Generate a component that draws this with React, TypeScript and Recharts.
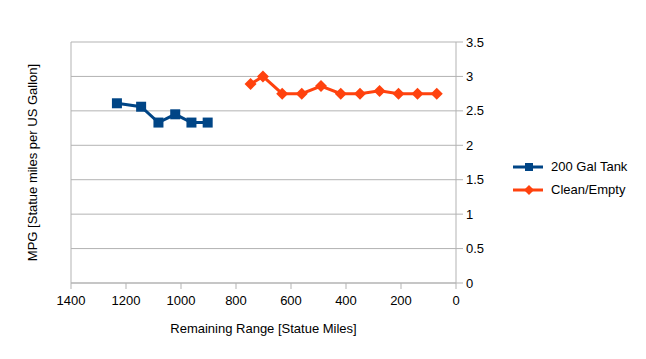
import { LineChart, Line, XAxis, YAxis, CartesianGrid, Legend, Label } from 'recharts'

const tankRange = [1233, 1145, 1082, 1021, 962, 903]
const tankMpg = [2.61, 2.56, 2.33, 2.45, 2.33, 2.33]

const cleanRange = [747, 702, 632, 561, 491, 419, 349, 278, 209, 140, 70]
const cleanMpg = [2.89, 3.0, 2.75, 2.75, 2.86, 2.75, 2.75, 2.79, 2.75, 2.75, 2.75]

const xTicks = [0, 200, 400, 600, 800, 1000, 1200, 1400]
const yTicks = [0, 0.5, 1, 1.5, 2, 2.5, 3, 3.5]

const tankData = tankRange.map((r, i) => ({ range: r, mpg: tankMpg[i] }))
const cleanData = cleanRange.map((r, i) => ({ range: r, mpg: cleanMpg[i] }))

const BLUE = '#004586'
const ORANGE = '#ff420e'
const GRID = '#b3b3b3'
const FONT = '"Liberation Sans", Arial, sans-serif'

const Square = (p: any) => {
  if (p.cx == null) return null
  return <rect key={p.key} x={p.cx - 5} y={p.cy - 5} width={10} height={10} fill={BLUE} />
}

const Diamond = (p: any) => {
  if (p.cx == null) return null
  const { cx, cy } = p
  return <polygon key={p.key} points={`${cx},${cy - 6} ${cx + 6},${cy} ${cx},${cy + 6} ${cx - 6},${cy}`} fill={ORANGE} />
}

const LegendBox = () => (
  <div style={{ fontFamily: FONT, fontSize: 13, color: '#000' }}>
    {[
      { name: '200 Gal Tank', color: BLUE, mark: 'sq' },
      { name: 'Clean/Empty', color: ORANGE, mark: 'di' },
    ].map((it) => (
      <div key={it.name} style={{ display: 'flex', alignItems: 'center', height: 23 }}>
        <svg width={34} height={12} style={{ marginRight: 4 }}>
          <line x1={0} y1={6} x2={30} y2={6} stroke={it.color} strokeWidth={3} />
          {it.mark === 'sq' ? (
            <rect x={12} y={2} width={8} height={8} fill={it.color} />
          ) : (
            <polygon points="16,1 21,6 16,11 11,6" fill={it.color} />
          )}
        </svg>
        <span>{it.name}</span>
      </div>
    ))}
  </div>
)

export default function App() {
  return (
    <div style={{ position: 'absolute', left: 0, top: 0, width: 646, height: 359, background: '#fff' }}>
      <LineChart width={646} height={359} margin={{ top: 42, right: 12, bottom: 26, left: 31 }} style={{ fontFamily: FONT }}>
        <CartesianGrid vertical={false} stroke={GRID} yAxisId="r" />
        <XAxis
          type="number"
          dataKey="range"
          domain={[0, 1400]}
          ticks={xTicks}
          reversed
          allowDataOverflow
          stroke={GRID}
          tickSize={6}
          height={50}
          tick={{ fill: '#000', fontSize: 13, dy: 5 }}
        >
          <Label value="Remaining Range [Statue Miles]" position="insideBottom" offset={0} fill="#000" fontSize={13} />
        </XAxis>
        <YAxis
          yAxisId="l"
          orientation="left"
          width={40}
          domain={[0, 3.5]}
          tick={false}
          tickLine={false}
          stroke={GRID}
        >
          <Label value="MPG [Statue miles per US Gallon]" angle={-90} position="center" dx={-19} fill="#000" fontSize={13} />
        </YAxis>
        <YAxis
          yAxisId="r"
          orientation="right"
          width={45}
          domain={[0, 3.5]}
          ticks={yTicks}
          stroke={GRID}
          tickSize={7}
          tick={{ fill: '#000', fontSize: 13, dx: 1 }}
        />
        <Legend
          layout="horizontal"
          verticalAlign="middle"
          align="right"
          content={<LegendBox />}
          wrapperStyle={{ left: 513, top: 155, width: 133 }}
        />
        <Line
          yAxisId="r"
          data={tankData}
          dataKey="mpg"
          name="200 Gal Tank"
          stroke={BLUE}
          strokeWidth={3}
          type="linear"
          dot={Square}
          activeDot={false}
          isAnimationActive={false}
        />
        <Line
          yAxisId="r"
          data={cleanData}
          dataKey="mpg"
          name="Clean/Empty"
          stroke={ORANGE}
          strokeWidth={3}
          type="linear"
          dot={Diamond}
          activeDot={false}
          isAnimationActive={false}
        />
      </LineChart>
    </div>
  )
}
